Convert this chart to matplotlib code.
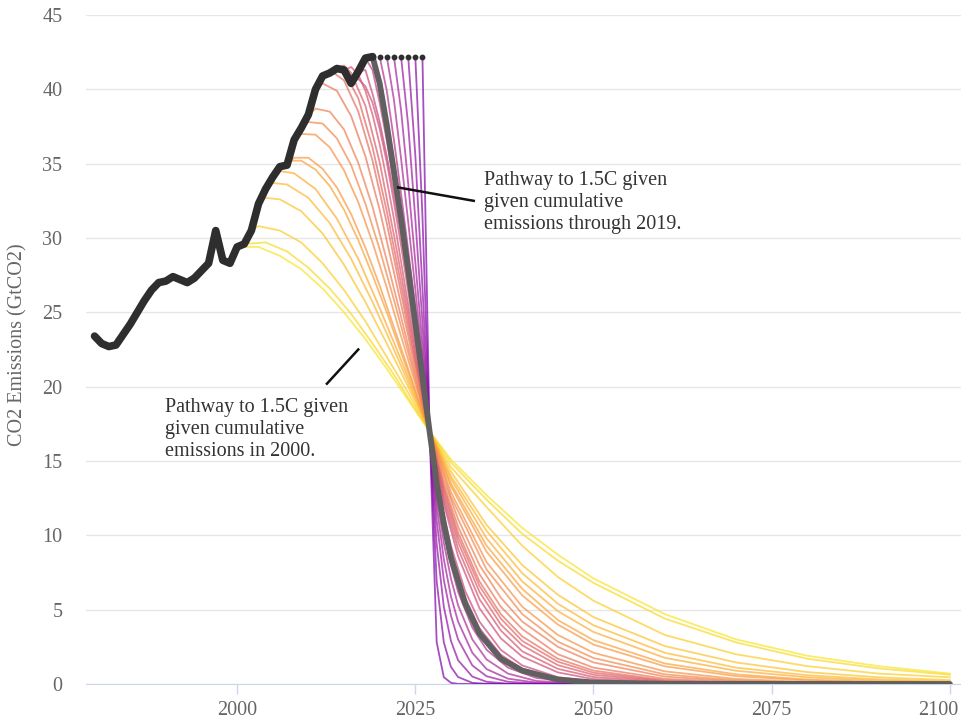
import matplotlib
matplotlib.use("Agg")
import matplotlib.pyplot as plt
from matplotlib.transforms import ScaledTranslation

plt.rcParams["font.family"] = ["Liberation Serif", "DejaVu Serif"]

# observed global CO2 emissions, GtCO2
HIST_YEARS = list(range(1980, 2020))
HIST_CO2 = [23.4, 22.9, 22.7, 22.8, 23.5, 24.2, 25.0, 25.8, 26.5, 27.0,
            27.1, 27.4, 27.2, 27.0, 27.3, 27.8, 28.3, 30.5, 28.5, 28.3,
            29.4, 29.6, 30.5, 32.3, 33.3, 34.1, 34.8, 34.9, 36.6, 37.4,
            38.3, 40.0, 40.9, 41.1, 41.4, 41.3, 40.4, 41.2, 42.1, 42.2]

# emissions held flat at the 2019 level before the later pathways start
FLAT_YEARS = [2019, 2020, 2021, 2022, 2023, 2024, 2025, 2026]
FLAT_CO2 = [42.2] * 8

# 1.5C pathways, one per start year
PATH_START = list(range(2000, 2027))
HIGHLIGHT = 2019

TAIL_EARLY = [2030, 2035, 2040, 2045, 2050, 2060, 2070, 2080, 2090, 2100]
TAIL_MID = [2029, 2031, 2034, 2037, 2040, 2045, 2050, 2060, 2070, 2100]
TAIL_LATE = [2028, 2029, 2030, 2032, 2034, 2037, 2040, 2045, 2050, 2060, 2100]
TAIL_FLAT = [2028, 2029, 2030, 2031, 2033, 2035, 2038, 2042, 2050, 2100]

PATH_YEARS = [
    [2000, 2003, 2006, 2009, 2012, 2015, 2018, 2021, 2024, 2027] + TAIL_EARLY,
    [2001, 2004, 2007, 2010, 2013, 2016, 2019, 2022, 2025, 2027] + TAIL_EARLY,
    [2002, 2003, 2006, 2009, 2012, 2015, 2018, 2021, 2024, 2027] + TAIL_EARLY,
    [2003, 2004, 2006, 2009, 2012, 2015, 2018, 2021, 2024, 2027] + TAIL_EARLY,
    [2004, 2005, 2007, 2010, 2013, 2016, 2019, 2022, 2025, 2027] + TAIL_EARLY,
    [2005, 2006, 2008, 2011, 2014, 2017, 2020, 2023, 2025, 2027] + TAIL_EARLY,
    [2006, 2007, 2009, 2011, 2013, 2015, 2017, 2019, 2021, 2023, 2025,
     2027] + TAIL_EARLY,
    [2007, 2008, 2010, 2012, 2014, 2016, 2018, 2020, 2022, 2024, 2026,
     2027] + TAIL_EARLY,
    [2008, 2009, 2011, 2013, 2015, 2017, 2019, 2021, 2023, 2025,
     2027] + TAIL_EARLY,
    [2009, 2010, 2012, 2014, 2016, 2018, 2020, 2022, 2024, 2026,
     2027] + TAIL_EARLY,
    [2010, 2011, 2013, 2015, 2017, 2019, 2021, 2023, 2025, 2026,
     2027] + TAIL_MID,
    [2011, 2012, 2014, 2016, 2018, 2020, 2022, 2024, 2025, 2026,
     2027] + TAIL_MID,
    [2012, 2013, 2015, 2017, 2019, 2021, 2023, 2024, 2025, 2026,
     2027] + TAIL_MID,
    [2013, 2014, 2015, 2017, 2019, 2021, 2023, 2024, 2025, 2026,
     2027] + TAIL_MID,
    [2014, 2015, 2016, 2018, 2020, 2022, 2023, 2024, 2025, 2026,
     2027] + TAIL_MID,
    list(range(2015, 2028)) + TAIL_MID,
    list(range(2016, 2028)) + TAIL_MID,
    list(range(2017, 2028)) + TAIL_LATE,
    list(range(2018, 2028)) + TAIL_LATE,
    list(range(2019, 2028)) + TAIL_LATE,
    list(range(2020, 2028)) + TAIL_FLAT,
    list(range(2021, 2028)) + TAIL_FLAT,
    list(range(2022, 2028)) + TAIL_FLAT,
    list(range(2023, 2028)) + TAIL_FLAT,
    list(range(2024, 2028)) + TAIL_FLAT,
    list(range(2025, 2028)) + TAIL_FLAT,
    list(range(2026, 2028)) + TAIL_FLAT,
]

PATH_CO2 = [
    [29.4, 29.4, 28.8, 27.9, 26.6, 25.0, 23.2, 21.2, 19.1, 17.0,
     15.1, 12.7, 10.5, 8.7, 7.1, 4.7, 3.0, 1.9, 1.2, 0.7],
    [29.6, 29.7, 29.1, 28.0, 26.6, 24.9, 22.9, 20.8, 18.5, 17.0,
     14.9, 12.4, 10.1, 8.3, 6.8, 4.4, 2.8, 1.7, 1.05, 0.62],
    [30.5, 30.8, 30.5, 29.7, 28.3, 26.5, 24.4, 22.0, 19.6, 17.0,
     14.6, 11.9, 9.3, 7.2, 5.6, 3.3, 2.0, 1.2, 0.7, 0.45],
    [32.3, 32.7, 32.6, 31.8, 30.3, 28.2, 25.7, 22.9, 20.0, 17.0,
     14.3, 10.7, 8.0, 6.0, 4.5, 2.55, 1.45, 0.8, 0.45, 0.26],
    [33.3, 33.7, 33.6, 32.7, 31.0, 28.6, 25.7, 22.5, 19.2, 17.0,
     14.0, 10.3, 7.45, 5.4, 3.95, 2.1, 1.1, 0.59, 0.31, 0.17],
    [34.1, 34.5, 34.35, 33.3, 31.3, 28.6, 25.3, 21.8, 19.4, 17.0,
     13.8, 9.8, 6.9, 4.9, 3.5, 1.76, 0.89, 0.45, 0.22, 0.11],
    [34.8, 35.2, 35.2, 34.6, 33.5, 31.9, 29.85, 27.5, 25.0, 22.3, 19.6, 17.0,
     13.5, 9.3, 6.4, 4.3, 2.95, 1.38, 0.65, 0.3, 0.14, 0.07],
    [34.9, 35.4, 35.4, 34.65, 33.4, 31.6, 29.35, 26.8, 24.0, 21.2, 18.35,
     17.0,
     13.3, 8.9, 5.96, 4.0, 2.65, 1.19, 0.53, 0.24, 0.1, 0.05],
    [36.6, 37.0, 36.95, 36.1, 34.55, 32.4, 29.7, 26.65, 23.4, 20.2, 17.0,
     12.9, 8.2, 5.2, 3.3, 2.1, 0.85, 0.34, 0.14, 0.05, 0.02],
    [37.4, 37.8, 37.7, 36.7, 34.9, 32.3, 29.25, 25.85, 22.3, 18.7, 17.0,
     12.6, 7.7, 4.7, 2.85, 1.75, 0.65, 0.24, 0.09, 0.03, 0.01],
    [38.3, 38.7, 38.5, 37.3, 35.05, 32.1, 28.5, 24.7, 20.8, 18.8, 17.0,
     13.7, 11.1, 8.0, 5.8, 4.2, 2.5, 1.45, 0.5, 0.17, 0.0],
    [40.0, 40.4, 39.9, 38.2, 35.5, 31.9, 27.7, 23.4, 21.2, 19.1, 17.0,
     13.4, 10.6, 7.4, 5.2, 3.7, 2.0, 1.1, 0.35, 0.1, 0.0],
    [40.9, 41.3, 40.6, 38.5, 35.2, 31.0, 26.3, 23.9, 21.6, 19.2, 17.0,
     13.2, 10.2, 6.9, 4.7, 3.2, 1.7, 0.9, 0.25, 0.07, 0.0],
    [41.1, 41.5, 41.2, 39.4, 36.1, 31.8, 26.9, 24.4, 21.8, 19.4, 17.0,
     13.0, 9.9, 6.6, 4.4, 2.9, 1.5, 0.76, 0.2, 0.05, 0.0],
    [41.4, 41.6, 41.1, 38.9, 35.1, 30.2, 27.6, 24.9, 22.2, 19.5, 17.0,
     12.7, 9.55, 6.2, 4.0, 2.6, 1.27, 0.62, 0.15, 0.04, 0.0],
    [41.3, 41.5, 41.0, 39.9, 38.3, 36.3, 33.9, 31.3, 28.4, 25.5, 22.6, 19.7,
     17.0,
     12.4, 9.1, 5.7, 3.6, 2.2, 1.02, 0.47, 0.1, 0.02, 0.0],
    [40.4, 40.7, 40.2, 39.1, 37.35, 35.1, 32.4, 29.5, 26.4, 23.1, 20.0, 17.0,
     12.1, 8.6, 5.1, 3.07, 1.84, 0.78, 0.33, 0.06, 0.01, 0.0],
    [41.2, 41.3, 39.7, 37.8, 35.5, 33.0, 30.2, 27.15, 23.9, 20.55, 17.0,
     13.9, 11.4, 9.3, 6.25, 4.2, 2.3, 1.25, 0.46, 0.17, 0.02, 0.0],
    [42.1, 41.3, 39.1, 36.55, 33.7, 30.7, 27.5, 24.1, 20.6, 17.0,
     13.7, 11.0, 8.9, 5.8, 3.75, 1.96, 1.03, 0.35, 0.12, 0.01, 0.0],
    [42.2, 40.4, 37.6, 34.5, 31.3, 27.85, 24.3, 20.7, 17.0,
     13.5, 10.8, 8.5, 5.4, 3.4, 1.7, 0.9, 0.3, 0.1, 0.01, 0.0],
    [42.2, 39.9, 36.6, 33.0, 29.2, 25.3, 21.2, 17.0,
     13.2, 10.3, 8.0, 6.2, 3.8, 2.3, 1.1, 0.4, 0.05, 0.0],
    [42.2, 39.3, 35.35, 31.1, 26.55, 21.85, 17.0,
     12.7, 9.5, 7.1, 5.3, 3.0, 1.65, 0.7, 0.2, 0.02, 0.0],
    [42.2, 38.6, 33.7, 28.4, 22.8, 17.0,
     12.0, 8.4, 5.9, 4.2, 2.1, 1.0, 0.36, 0.09, 0.0, 0.0],
    [42.2, 37.6, 31.3, 24.3, 17.0,
     11.0, 7.0, 4.6, 3.0, 1.25, 0.52, 0.15, 0.03, 0.0, 0.0],
    [42.2, 35.6, 26.7, 17.0,
     9.4, 5.2, 2.9, 1.6, 0.5, 0.15, 0.02, 0.0, 0.0, 0.0],
    [42.2, 31.5, 17.0,
     6.9, 2.8, 1.15, 0.47, 0.08, 0.01, 0.0, 0.0, 0.0, 0.0],
    [42.2, 17.0,
     2.8, 0.46, 0.08, 0.01, 0.0, 0.0, 0.0, 0.0, 0.0, 0.0],
]

for yrs, vals in zip(PATH_YEARS, PATH_CO2):
    assert len(yrs) == len(vals), yrs[0]

X_TICKS = [2000, 2025, 2050, 2075, 2100]
Y_TICKS = [0, 5, 10, 15, 20, 25, 30, 35, 40, 45]

NOTE_2019 = "Pathway to 1.5C given\ngiven cumulative\nemissions through 2019."
NOTE_2000 = "Pathway to 1.5C given\ngiven cumulative\nemissions in 2000."

fig = plt.figure(figsize=(9.62, 7.22), dpi=100)
ax = fig.add_axes([86 / 962, 38 / 722, 876 / 962, 669 / 722])

cmap = plt.get_cmap("plasma")
n = len(PATH_START)
for i, (start, yrs, vals) in enumerate(zip(PATH_START, PATH_YEARS, PATH_CO2)):
    if start == HIGHLIGHT:
        ax.plot(yrs, vals, color="#606060", lw=4.2, solid_capstyle="round",
                solid_joinstyle="round", zorder=4)
    else:
        ax.plot(yrs, vals, color=cmap(0.95 - 0.70 * i / (n - 1)), lw=1.3,
                alpha=0.7, solid_joinstyle="round", zorder=3)

ax.plot(HIST_YEARS, HIST_CO2, color="#2e2e2e", lw=5.5,
        solid_joinstyle="round", solid_capstyle="round", zorder=5)
ax.plot(FLAT_YEARS, FLAT_CO2, "o", color="#2e2e2e", ms=3.2, zorder=6)

# annotations
ax.plot([2022.6, 2033.2], [33.4, 32.5], color="#111111", lw=1.8, zorder=7)
ax.text(2034.6, 32.4, NOTE_2019, fontsize=14.5, color="#333333",
        va="center", ha="left", linespacing=1.2)
ax.plot([2012.6, 2017.0], [20.2, 22.5], color="#111111", lw=1.8, zorder=7)
ax.text(1989.9, 17.1, NOTE_2000, fontsize=14.5, color="#333333",
        va="center", ha="left", linespacing=1.2)

ax.set_xlim(1978.8, 2101.7)
ax.set_ylim(0, 45)
ax.set_xticks(X_TICKS)
ax.set_yticks(Y_TICKS)
ax.grid(axis="y", color="#e6e6e6", lw=1)
ax.set_axisbelow(True)
for side in ("top", "right", "left"):
    ax.spines[side].set_visible(False)
ax.spines["bottom"].set_color("#ccd6eb")
ax.tick_params(axis="x", length=7, width=1, color="#ccd6eb", pad=5,
               labelsize=14.5, labelcolor="#666666")
ax.tick_params(axis="y", length=0, pad=17, labelsize=14.5,
               labelcolor="#666666")

# keep the last year label inside the figure
last = ax.get_xticklabels()[-1]
last.set_horizontalalignment("right")
last.set_transform(last.get_transform()
                   + ScaledTranslation(8 / 100, 0, fig.dpi_scale_trans))

fig.text(18 / 962, 1 - 345 / 722, "CO2 Emissions (GtCO2)", rotation=90,
         ha="center", va="center", fontsize=14.5, color="#666666")

fig.savefig("out.png", dpi=100)
